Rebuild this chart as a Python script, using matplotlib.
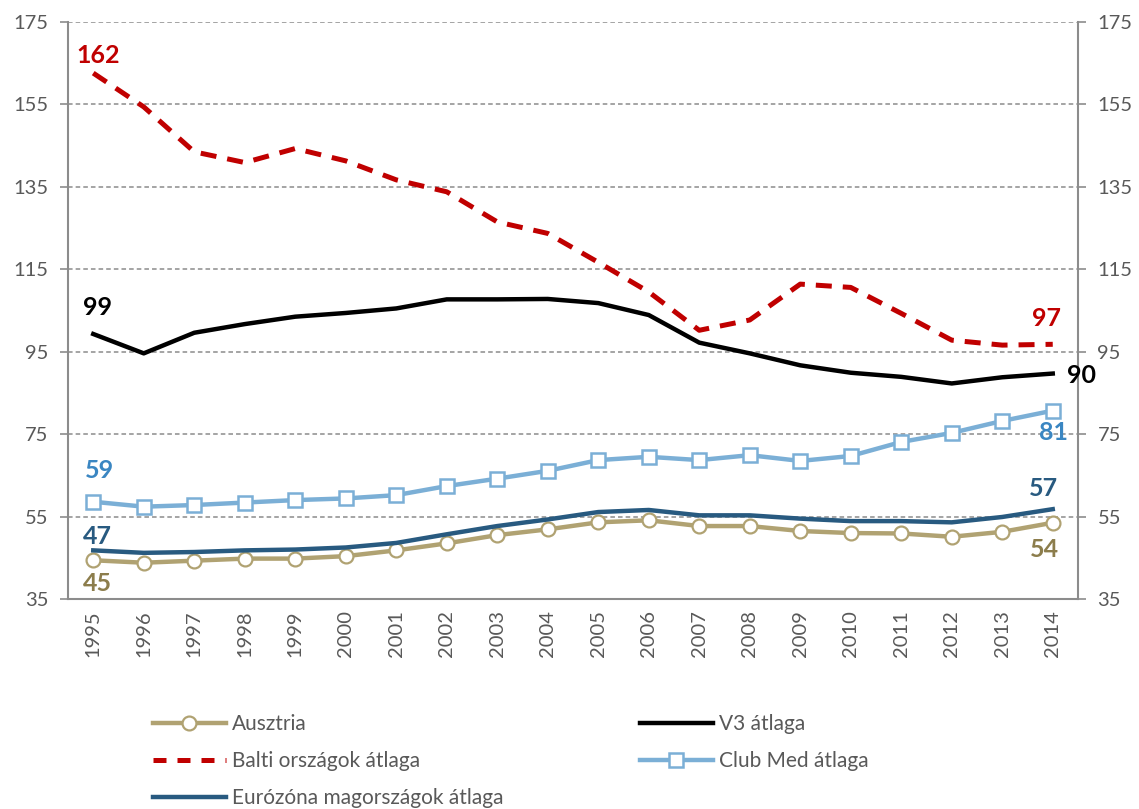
import matplotlib
matplotlib.use("Agg")
import matplotlib.pyplot as plt
from matplotlib.lines import Line2D

years = [str(y) for y in range(1995, 2015)]
ausztria = [44.4, 43.8, 44.3, 44.8, 44.8, 45.4, 46.8, 48.5, 50.5, 51.9,
            53.6, 54.1, 52.7, 52.7, 51.5, 51.0, 50.9, 50.1, 51.3, 53.5]
v3 = [99.3, 94.6, 99.6, 101.7, 103.5, 104.4, 105.5, 107.7, 107.7, 107.8,
      106.8, 103.9, 97.2, 94.6, 91.7, 89.9, 88.9, 87.3, 88.8, 89.7]
balti = [162.6, 154.4, 143.5, 140.9, 144.3, 141.3, 136.7, 133.8, 126.5, 123.7,
         116.7, 109.5, 100.2, 102.7, 111.4, 110.6, 104.3, 97.8, 96.6, 96.8]
clubmed = [58.6, 57.4, 57.8, 58.4, 59.0, 59.4, 60.2, 62.4, 64.2, 66.1,
           68.7, 69.5, 68.7, 69.9, 68.5, 69.7, 73.1, 75.3, 78.2, 80.7]
eurozona = [46.8, 46.2, 46.4, 46.8, 47.0, 47.5, 48.6, 50.7, 52.7, 54.3,
            56.1, 56.6, 55.3, 55.3, 54.5, 53.9, 53.9, 53.6, 54.9, 56.8]
yticks = [35, 55, 75, 95, 115, 135, 155, 175]

C_AUS = "#B0A272"
C_AUS_T = "#8C7D4C"
C_V3 = "#000000"
C_BAL = "#C00000"
C_CM = "#7BAFD6"
C_CM_T = "#3A86C2"
C_EU = "#285A80"
GRAY = "#595959"
SP = "#8C8C8C"

plt.rcParams['font.family'] = ['Lato', 'DejaVu Sans']

fig = plt.figure(figsize=(11.39, 8.09), dpi=100)
ax = fig.add_axes([68/1139, 1-599/809, (1078-68)/1139, (599-22)/809])
x = list(range(len(years)))

ax.plot(x, ausztria, color=C_AUS, lw=3.2, marker='o', ms=10, mfc='white',
        mec=C_AUS, mew=1.6, zorder=3)
ax.plot(x, eurozona, color=C_EU, lw=3.2, zorder=3)
ax.plot(x, clubmed, color=C_CM, lw=3.2, marker='s', ms=10, mfc='white',
        mec=C_CM, mew=1.8, zorder=3)
ax.plot(x, v3, color=C_V3, lw=3.2, zorder=3)
ax.plot(x, balti, color=C_BAL, lw=3.6, dashes=(3.2, 2.2), zorder=3)

ax.set_xlim(-0.5, len(years) - 0.5)
ax.set_ylim(35, 175)
ax.set_yticks(yticks)
ax.set_xticks(x)
ax.set_xticklabels(years, rotation=90)
ax.yaxis.grid(True, color=SP, linestyle=(0, (3, 2)), lw=1.1)
ax.set_axisbelow(True)
for s in ['left', 'right', 'bottom']:
    ax.spines[s].set_color(SP)
    ax.spines[s].set_linewidth(1.5)
ax.spines['top'].set_visible(False)
ax.tick_params(axis='y', which='both', left=True, right=True, labelleft=True,
               labelright=True, direction='out', length=6, color=SP, width=1.2,
               labelsize=14.5, labelcolor=GRAY, pad=8)
ax.tick_params(axis='x', length=0, labelsize=14.5, labelcolor=GRAY, pad=8)

def lab(i, series, text, color, dx, dy):
    ax.annotate(text, (i, series[i]), xytext=(dx * 0.72, dy * 0.72),
                textcoords='offset points', ha='center', va='center',
                fontsize=18, fontweight='bold', color=color, zorder=5)

lab(0, balti, "162", C_BAL, 5, 18)
lab(0, v3, "99", C_V3, 4, 26)
lab(0, clubmed, "59", C_CM_T, 6, 31)
lab(0, eurozona, "47", C_EU, 4, 14)
lab(0, ausztria, "45", C_AUS_T, 4, -23)
lab(19, balti, "97", C_BAL, -6, 26)
lab(19, v3, "90", C_V3, 29, -2)
lab(19, clubmed, "81", C_CM_T, 1, -22)
lab(19, eurozona, "57", C_EU, -9, 21)
lab(19, ausztria, "54", C_AUS_T, -8, -27)

h_aus = Line2D([], [], color=C_AUS, lw=3.2, marker='o', ms=10, mfc='white', mec=C_AUS, mew=1.6)
h_bal = Line2D([], [], color=C_BAL, lw=3.6, dashes=(2.6, 2.2))
h_eu = Line2D([], [], color=C_EU, lw=3.2)
h_v3 = Line2D([], [], color=C_V3, lw=3.2)
h_cm = Line2D([], [], color=C_CM, lw=3.2, marker='s', ms=10, mfc='white', mec=C_CM, mew=1.8)

common = dict(loc='upper left', frameon=False, fontsize=15, handlelength=3.5,
              handletextpad=0.3, labelspacing=0.82, borderpad=0, borderaxespad=0,
              labelcolor=GRAY)
l1 = fig.legend([h_aus, h_bal, h_eu],
                ["Ausztria", "Balti országok átlaga", "Eurózóna magországok átlaga"],
                bbox_to_anchor=(153/1139, 1-714/809), **common)
l2 = fig.legend([h_v3, h_cm], ["V3 átlaga", "Club Med átlaga"],
                bbox_to_anchor=(640/1139, 1-714/809), **common)

fig.savefig("out.png", dpi=100)
